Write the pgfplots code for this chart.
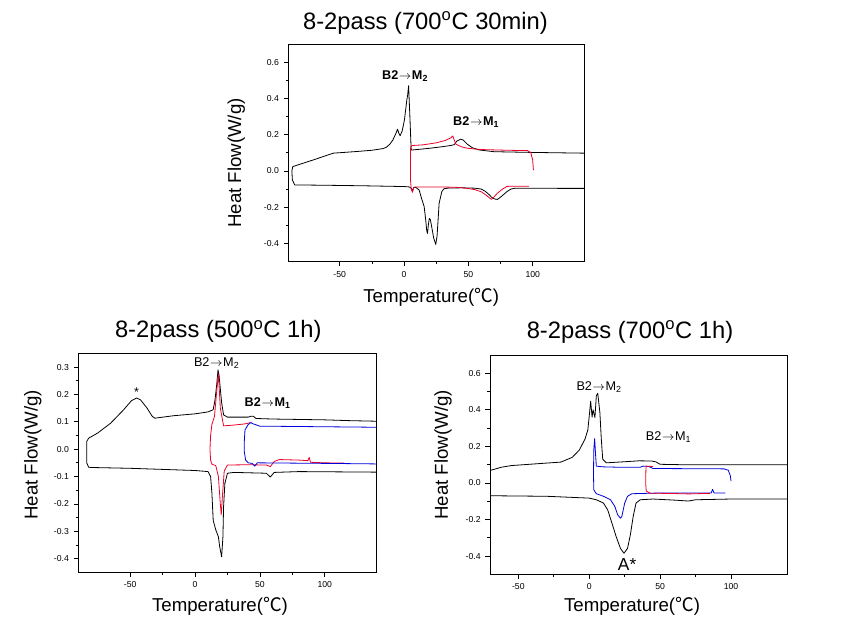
\documentclass[border=0pt]{standalone}
\usepackage{fontspec}
\setmainfont{Liberation Sans}
\newfontfamily\cjk{Noto Sans CJK KR}
\usepackage{pgfplots}
\pgfplotsset{compat=1.18}
\definecolor{dred}{RGB}{235,0,40}
\definecolor{dblue}{RGB}{0,0,220}
\pgfplotsset{dsc/.style={
  scale only axis,
  axis line style={line width=0.6pt},
  tick align=outside, xtick pos=bottom, ytick pos=left,
  minor x tick num=1, minor y tick num=1,
  major tick length=3.5pt, minor tick length=2pt,
  tick style={black, line width=0.5pt},
  ticklabel style={font=\fontsize{6.5}{7}\selectfont},
  /pgf/number format/assume math mode=true,
  y tick label style={/pgf/number format/.cd, fixed, fixed zerofill, precision=1},
  label style={font=\fontsize{14}{16}\selectfont},
  ylabel={Heat Flow(W/g)},
  xlabel={Temperature({\cjk ℃})},
  every axis plot/.append style={line width=0.6pt, line join=round},
  xtick={-50,0,50,100},
}}
\newcommand{\ann}{\fontsize{9.5}{10}\selectfont}
\newcommand{\arr}{\kern0.5pt$\rightarrow$\kern0.5pt}
\begin{document}
\begin{tikzpicture}
\useasboundingbox (0,0) rectangle (636pt,470.25pt);
\node[font=\fontsize{17.8}{19}\selectfont] at (319.1pt,453pt) {8-2pass (700\textsuperscript{o}C 30min)};
\node[font=\fontsize{17.8}{19}\selectfont] at (163.7pt,221.5pt) {8-2pass (500\textsuperscript{o}C 1h)};
\node[font=\fontsize{17.8}{19}\selectfont] at (472.5pt,221.2pt) {8-2pass (700\textsuperscript{o}C 1h)};

% ---------------- top
\begin{axis}[dsc, at={(216.2pt,274pt)}, anchor=south west, width=222pt, height=163.3pt,
  xmin=-90, xmax=140, ymin=-0.5, ymax=0.7, ytick={-0.4,-0.2,0,0.2,0.4,0.6},
  xlabel style={at={(axis description cs:0.483,-0.162)}, anchor=center},
  ylabel style={at={(axis description cs:-0.176,0.453)}, anchor=center}]
\addplot[black] coordinates {
(140,0.098) (120,0.1) (100,0.102) (70,0.106) (58,0.116) (53,0.128) (49,0.148) (46,0.17) (44,0.175) (41,0.165) (39,0.145) (36,0.14) (30,0.134) (20,0.125) (10,0.118) (5.5,0.115)
(4.5,0.3) (3.5,0.47) (2.8,0.42) (2.1,0.39) (0.3,0.282) (-1.5,0.22) (-3.1,0.194) (-4.2,0.21) (-5.1,0.23) (-6.5,0.205) (-8.7,0.171) (-11,0.148) (-13.9,0.13) (-16.5,0.123) (-25,0.114) (-37,0.107) (-55,0.098) (-70,0.062) (-86.5,0.024)
(-87.2,0.0) (-86.8,-0.05) (-85,-0.077) (-60,-0.079) (-30,-0.082) (0,-0.086) (4,-0.088) (5.5,-0.095) (6.5,-0.11) (7.5,-0.092) (9,-0.09) (11.7,-0.105) (13.5,-0.15) (15.6,-0.197) (16.8,-0.27) (17.6,-0.33) (18.2,-0.345) (18.8,-0.3) (19.6,-0.262) (20.4,-0.268) (21.5,-0.31) (23,-0.37) (24.6,-0.405) (25.6,-0.36) (26.5,-0.26) (27.2,-0.179) (29.3,-0.114) (31,-0.098) (35,-0.094) (45,-0.093) (55,-0.095) (60,-0.1) (63,-0.112) (66,-0.13) (68,-0.145) (70.5,-0.155) (72.6,-0.157) (76,-0.138) (79.9,-0.114) (83,-0.1) (86.3,-0.095) (100,-0.095) (120,-0.096) (140,-0.096)};
\addplot[dred] coordinates {
(97,-0.084) (80,-0.085) (76.5,-0.1) (72.6,-0.122) (70,-0.142) (67.9,-0.157) (64,-0.135) (60,-0.115) (55,-0.103) (48,-0.095) (40,-0.09) (25,-0.088) (10,-0.088) (7.5,-0.09) (6.5,-0.118) (5.5,-0.1) (5,-0.05) (4.9,0.05) (5.1,0.13) (6,0.14) (15,0.144) (25,0.155) (32,0.168) (36.5,0.183) (37.8,0.193) (39,0.17) (40.3,0.147) (45,0.132) (49.3,0.125) (59.7,0.118) (80,0.114) (96,0.112) (98.5,0.1) (99.9,0.06) (100.5,0.005)};
\node[font=\ann\bfseries] at (axis cs:0.8,0.525) {B2\arr M\textsubscript{2}};
\node[font=\ann\bfseries] at (axis cs:56,0.267) {B2\arr M\textsubscript{1}};
\end{axis}

% ---------------- bottom left
\begin{axis}[dsc, at={(58.7pt,41pt)}, anchor=south west, width=223.8pt, height=164.25pt,
  xmin=-90, xmax=140, ymin=-0.45, ymax=0.35, ytick={-0.4,-0.3,-0.2,-0.1,0,0.1,0.2,0.3},
  xlabel style={at={(axis description cs:0.475,-0.154)}, anchor=center},
  ylabel style={at={(axis description cs:-0.152,0.536)}, anchor=center}]
\addplot[black] coordinates {
(140,0.102) (120,0.104) (100,0.107) (60,0.11) (47,0.112) (45,0.12) (43,0.12) (41,0.117) (25,0.117) (22,0.125) (20.5,0.17) (19.5,0.22) (18.5,0.27) (17.7,0.29) (16.8,0.24) (15.4,0.18) (14,0.144) (10,0.136) (0,0.129) (-16.7,0.122) (-28,0.115) (-31,0.113) (-33,0.12) (-37,0.15) (-42,0.18) (-45,0.187) (-49,0.177) (-55,0.144) (-65,0.095) (-75,0.059) (-82,0.04) (-83.5,0.028)
(-83.5,-0.05) (-82,-0.066) (-80,-0.067) (-50,-0.07) (0,-0.078) (10,-0.082) (12,-0.1) (13,-0.16) (14,-0.26) (16,-0.295) (18,-0.32) (19,-0.356) (20.5,-0.393) (21.5,-0.32) (22,-0.21) (23,-0.125) (25,-0.088) (30,-0.085) (55,-0.088) (58,-0.102) (61,-0.085) (80,-0.082) (140,-0.084)};
\addplot[dred] coordinates {
(43,0.097) (38,0.092) (30,0.088) (22,0.085) (19.5,0.15) (18,0.275) (16.5,0.2) (15,0.12) (13,0.09) (12,0.05) (11.5,0.0) (12,-0.04) (13,-0.055) (16,-0.06) (18,-0.1) (19.5,-0.2) (20.2,-0.24) (21,-0.18) (22.5,-0.08) (25,-0.058) (40,-0.057) (55,-0.058) (58,-0.064) (61,-0.045) (65,-0.038) (80,-0.04) (87,-0.042) (88,-0.03) (89,-0.048) (100,-0.05) (115,-0.051)};
\addplot[dblue] coordinates {
(140,0.08) (50,0.084) (45,0.092) (43,0.097) (41,0.09) (38.5,0.07) (38,0.03) (38,-0.01) (39,-0.04) (41,-0.05) (44,-0.052) (46,-0.062) (48,-0.05) (100,-0.052) (140,-0.054)};
\node[font=\ann] at (axis cs:-45,0.21) {*};
\node[font=\ann] at (axis cs:16.7,0.315) {B2\arr M\textsubscript{2}};
\node[font=\ann\bfseries] at (axis cs:56,0.168) {B2\arr M\textsubscript{1}};
\end{axis}

% ---------------- bottom right
\begin{axis}[dsc, at={(367.5pt,39.5pt)}, anchor=south west, width=223.3pt, height=164.5pt,
  xmin=-70, xmax=140, ymin=-0.5, ymax=0.7, ytick={-0.4,-0.2,0,0.2,0.4,0.6},
  xlabel style={at={(axis description cs:0.477,-0.145)}, anchor=center},
  ylabel style={at={(axis description cs:-0.158,0.544)}, anchor=center}]
\addplot[black] coordinates {
(140,0.099) (100,0.099) (70,0.099) (50,0.102) (47,0.115) (44,0.12) (35,0.121) (25,0.116) (12,0.11) (9.5,0.13) (8.5,0.24) (7.5,0.385) (6,0.49) (5,0.477) (4,0.358) (2.7,0.40) (2,0.36) (1,0.447) (0,0.367) (-1,0.29) (-3,0.24) (-7,0.18) (-12,0.14) (-20,0.114) (-35,0.106) (-55,0.095) (-62,0.086) (-70,0.068)};
\addplot[black] coordinates {
(-70,-0.07) (-30,-0.073) (0,-0.083) (5,-0.092) (10,-0.11) (13,-0.147) (16,-0.22) (19,-0.294) (22,-0.358) (24.5,-0.385) (27,-0.358) (29,-0.284) (31,-0.183) (33,-0.11) (36,-0.092) (45,-0.088) (60,-0.094) (70,-0.099) (75,-0.092) (100,-0.088) (140,-0.088)};
\addplot[dblue] coordinates {
(96,-0.055) (88,-0.055) (87,-0.035) (86,-0.055) (50,-0.055) (30,-0.059) (27,-0.073) (25,-0.11) (23,-0.183) (22,-0.193) (20,-0.174) (18,-0.128) (15,-0.092) (10,-0.073) (5,-0.059) (3.2,-0.037) (3,0.05) (3.2,0.18) (3.8,0.242) (4.5,0.15) (5,0.092) (10,0.088) (20,0.086) (36,0.086) (38,0.092) (42,0.09) (45,0.079) (95,0.077) (98,0.07) (99.5,0.04) (100,0.01)};
\addplot[dred] coordinates {
(45,0.09) (40,0.092) (39.8,0.0) (40.2,-0.045) (43,-0.056) (60,-0.058) (70,-0.06) (85,-0.057)};
\node[font=\ann] at (axis cs:7,0.523) {B2\arr M\textsubscript{2}};
\node[font=\ann] at (axis cs:56,0.25) {B2\arr M\textsubscript{1}};
\node[font=\fontsize{13}{14}\selectfont] at (axis cs:26.7,-0.445) {A*};
\end{axis}
\end{tikzpicture}
\end{document}
